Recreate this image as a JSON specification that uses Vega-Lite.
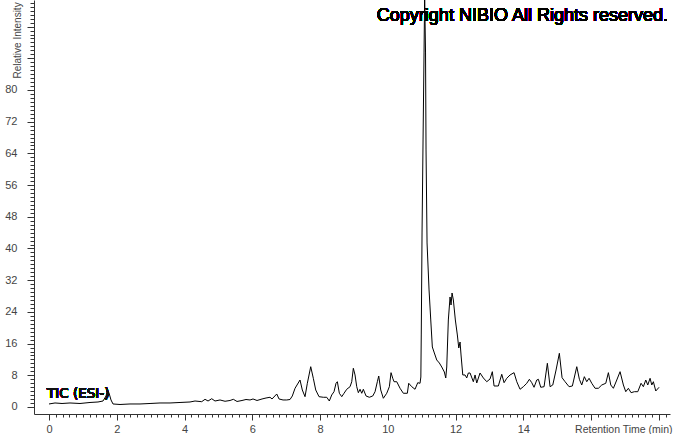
{
  "$schema": "https://vega.github.io/schema/vega-lite/v6.json",
  "width": 636,
  "height": 414,
  "autosize": {"type": "none"},
  "padding": {"left": 34, "top": 0, "right": 4, "bottom": 20},
  "background": "white",
  "config": {"view": {"stroke": null}, "font": "Liberation Sans", "axis": {"labelOverlap": false, "labelFlush": false, "grid": false}},
  "resolve": {"axis": {"x": "independent", "y": "independent"}},
  "data": {"values": [
    {"time": 0.0, "intensity": 0.76}, {"time": 0.177, "intensity": 1.01}, {"time": 0.384, "intensity": 0.88},
    {"time": 0.62, "intensity": 1.01}, {"time": 0.915, "intensity": 0.88}, {"time": 1.21, "intensity": 1.14},
    {"time": 1.446, "intensity": 1.26}, {"time": 1.594, "intensity": 1.51}, {"time": 1.683, "intensity": 2.78},
    {"time": 1.727, "intensity": 4.29}, {"time": 1.771, "intensity": 3.53}, {"time": 1.83, "intensity": 1.77},
    {"time": 1.889, "intensity": 0.76}, {"time": 2.096, "intensity": 0.63}, {"time": 2.391, "intensity": 0.76},
    {"time": 2.686, "intensity": 0.76}, {"time": 2.982, "intensity": 0.88}, {"time": 3.277, "intensity": 1.01},
    {"time": 3.572, "intensity": 1.01}, {"time": 3.867, "intensity": 1.14}, {"time": 4.162, "intensity": 1.26},
    {"time": 4.31, "intensity": 1.51}, {"time": 4.508, "intensity": 1.34}, {"time": 4.605, "intensity": 1.94},
    {"time": 4.694, "intensity": 1.51}, {"time": 4.803, "intensity": 2.09}, {"time": 4.9, "intensity": 1.51},
    {"time": 5.048, "intensity": 1.77}, {"time": 5.196, "intensity": 1.44}, {"time": 5.343, "intensity": 1.64},
    {"time": 5.441, "intensity": 1.94}, {"time": 5.55, "intensity": 1.39}, {"time": 5.697, "intensity": 1.64},
    {"time": 5.815, "intensity": 1.89}, {"time": 5.934, "intensity": 1.77}, {"time": 6.022, "intensity": 2.02},
    {"time": 6.14, "intensity": 1.64}, {"time": 6.288, "intensity": 2.02}, {"time": 6.406, "intensity": 2.27},
    {"time": 6.524, "intensity": 2.45}, {"time": 6.583, "intensity": 2.02}, {"time": 6.722, "intensity": 3.28},
    {"time": 6.79, "intensity": 2.02}, {"time": 6.908, "intensity": 1.77}, {"time": 7.017, "intensity": 1.77},
    {"time": 7.114, "intensity": 1.89}, {"time": 7.182, "intensity": 2.78}, {"time": 7.262, "intensity": 4.72},
    {"time": 7.409, "intensity": 6.81}, {"time": 7.477, "intensity": 4.29}, {"time": 7.557, "intensity": 2.6},
    {"time": 7.625, "intensity": 5.98}, {"time": 7.725, "intensity": 10.17}, {"time": 7.802, "intensity": 7.24},
    {"time": 7.873, "intensity": 4.29}, {"time": 7.97, "intensity": 2.6}, {"time": 8.097, "intensity": 2.45},
    {"time": 8.198, "intensity": 2.45}, {"time": 8.274, "intensity": 1.51}, {"time": 8.345, "intensity": 3.03},
    {"time": 8.413, "intensity": 3.86}, {"time": 8.472, "intensity": 5.98}, {"time": 8.511, "intensity": 6.38},
    {"time": 8.57, "intensity": 3.46}, {"time": 8.641, "intensity": 2.6}, {"time": 8.708, "intensity": 3.46},
    {"time": 8.788, "intensity": 4.47}, {"time": 8.886, "intensity": 5.12}, {"time": 8.936, "intensity": 6.38},
    {"time": 8.983, "intensity": 9.77}, {"time": 9.033, "intensity": 8.08}, {"time": 9.083, "intensity": 5.12},
    {"time": 9.131, "intensity": 3.61}, {"time": 9.181, "intensity": 4.47}, {"time": 9.231, "intensity": 3.46},
    {"time": 9.278, "intensity": 4.47}, {"time": 9.358, "intensity": 2.78}, {"time": 9.455, "intensity": 2.45},
    {"time": 9.556, "intensity": 2.78}, {"time": 9.624, "intensity": 3.86}, {"time": 9.692, "intensity": 6.38},
    {"time": 9.733, "intensity": 7.82}, {"time": 9.792, "intensity": 4.29}, {"time": 9.869, "intensity": 2.2},
    {"time": 9.969, "intensity": 3.46}, {"time": 10.046, "intensity": 5.12}, {"time": 10.096, "intensity": 8.66},
    {"time": 10.146, "intensity": 7.24}, {"time": 10.185, "intensity": 6.38}, {"time": 10.264, "intensity": 6.38},
    {"time": 10.362, "intensity": 4.72}, {"time": 10.459, "intensity": 3.46}, {"time": 10.577, "intensity": 3.46},
    {"time": 10.618, "intensity": 5.98}, {"time": 10.707, "intensity": 5.12}, {"time": 10.804, "intensity": 4.47},
    {"time": 10.884, "intensity": 6.13}, {"time": 10.952, "intensity": 5.98}, {"time": 10.976, "intensity": 7.57},
    {"time": 10.988, "intensity": 18.17}, {"time": 11.011, "intensity": 43.91}, {"time": 11.041, "intensity": 67.38},
    {"time": 11.07, "intensity": 89.34}, {"time": 11.088, "intensity": 104.0}, {"time": 11.114, "intensity": 89.34},
    {"time": 11.129, "intensity": 64.86}, {"time": 11.159, "intensity": 41.39}, {"time": 11.218, "intensity": 29.53},
    {"time": 11.268, "intensity": 21.96}, {"time": 11.315, "intensity": 15.14}, {"time": 11.374, "intensity": 13.63},
    {"time": 11.445, "intensity": 11.86}, {"time": 11.522, "intensity": 11.1}, {"time": 11.593, "intensity": 10.09},
    {"time": 11.669, "intensity": 8.83}, {"time": 11.711, "intensity": 7.32}, {"time": 11.74, "intensity": 10.09},
    {"time": 11.787, "intensity": 21.96}, {"time": 11.838, "intensity": 27.76}, {"time": 11.867, "intensity": 25.74},
    {"time": 11.897, "intensity": 28.77}, {"time": 11.935, "intensity": 27.0}, {"time": 11.994, "intensity": 21.96},
    {"time": 12.053, "intensity": 18.17}, {"time": 12.095, "intensity": 14.89}, {"time": 12.133, "intensity": 16.4},
    {"time": 12.162, "intensity": 13.12}, {"time": 12.213, "intensity": 8.08}, {"time": 12.28, "intensity": 8.08},
    {"time": 12.33, "intensity": 7.32}, {"time": 12.378, "intensity": 8.58}, {"time": 12.428, "intensity": 8.58},
    {"time": 12.525, "intensity": 6.38}, {"time": 12.576, "intensity": 8.08}, {"time": 12.626, "intensity": 6.06},
    {"time": 12.723, "intensity": 8.58}, {"time": 12.821, "intensity": 7.32}, {"time": 12.921, "intensity": 6.38},
    {"time": 13.018, "intensity": 7.07}, {"time": 13.086, "intensity": 8.91}, {"time": 13.137, "intensity": 5.3},
    {"time": 13.263, "intensity": 5.3}, {"time": 13.364, "intensity": 8.25}, {"time": 13.432, "intensity": 6.13},
    {"time": 13.511, "intensity": 7.24}, {"time": 13.609, "intensity": 8.08}, {"time": 13.727, "intensity": 8.66},
    {"time": 13.807, "intensity": 6.38}, {"time": 13.904, "intensity": 4.47}, {"time": 14.002, "intensity": 5.12},
    {"time": 14.102, "intensity": 5.98}, {"time": 14.179, "intensity": 6.99}, {"time": 14.25, "intensity": 6.13},
    {"time": 14.317, "intensity": 4.97}, {"time": 14.397, "intensity": 6.81}, {"time": 14.445, "intensity": 6.99},
    {"time": 14.515, "intensity": 4.97}, {"time": 14.613, "intensity": 5.12}, {"time": 14.71, "intensity": 11.03},
    {"time": 14.79, "intensity": 5.12}, {"time": 14.87, "intensity": 5.55}, {"time": 14.967, "intensity": 9.34},
    {"time": 15.064, "intensity": 13.55}, {"time": 15.144, "intensity": 7.39}, {"time": 15.233, "intensity": 6.38},
    {"time": 15.351, "intensity": 5.12}, {"time": 15.448, "intensity": 5.3}, {"time": 15.578, "intensity": 10.17},
    {"time": 15.655, "intensity": 6.99}, {"time": 15.725, "intensity": 5.55}, {"time": 15.802, "intensity": 7.65},
    {"time": 15.873, "intensity": 6.38}, {"time": 15.941, "intensity": 7.24}, {"time": 16.021, "intensity": 5.98},
    {"time": 16.118, "intensity": 4.72}, {"time": 16.216, "intensity": 4.72}, {"time": 16.316, "intensity": 5.55},
    {"time": 16.434, "intensity": 5.98}, {"time": 16.511, "intensity": 8.66}, {"time": 16.582, "intensity": 5.55},
    {"time": 16.659, "intensity": 4.72}, {"time": 16.759, "intensity": 6.81}, {"time": 16.856, "intensity": 8.91},
    {"time": 16.954, "intensity": 5.55}, {"time": 17.024, "intensity": 3.86}, {"time": 17.101, "intensity": 4.72},
    {"time": 17.181, "intensity": 3.61}, {"time": 17.278, "intensity": 3.86}, {"time": 17.379, "intensity": 3.86},
    {"time": 17.476, "intensity": 5.98}, {"time": 17.544, "intensity": 5.12}, {"time": 17.615, "intensity": 6.81},
    {"time": 17.674, "intensity": 5.55}, {"time": 17.742, "intensity": 7.24}, {"time": 17.792, "intensity": 5.55},
    {"time": 17.839, "intensity": 6.38}, {"time": 17.91, "intensity": 4.04}, {"time": 18.007, "intensity": 4.97}
  ]},
  "layer": [
    {
      "mark": {"type": "line", "color": "black", "strokeWidth": 1, "clip": true},
      "encoding": {
        "x": {
          "field": "time", "type": "quantitative",
          "scale": {"domain": [-0.443, 18.33], "nice": false, "zero": false},
          "axis": {
            "values": [0,0.2,0.4,0.6,0.8,1,1.2,1.4,1.6,1.8,2,2.2,2.4,2.6,2.8,3,3.2,3.4,3.6,3.8,4,4.2,4.4,4.6,4.8,5,5.2,5.4,5.6,5.8,6,6.2,6.4,6.6,6.8,7,7.2,7.4,7.6,7.8,8,8.2,8.4,8.6,8.8,9,9.2,9.4,9.6,9.8,10,10.2,10.4,10.6,10.8,11,11.2,11.4,11.6,11.8,12,12.2,12.4,12.6,12.8,13,13.2,13.4,13.6,13.8,14,14.2,14.4,14.6,14.8,15,15.2,15.4,15.6,15.8,16,16.2,16.4,16.6,16.8,17,17.2,17.4,17.6,17.8,18,18.2],
            "labelExpr": "(abs(datum.value/2 - round(datum.value/2)) < 0.01 && datum.value < 15) ? '' + round(datum.value) : ''",
            "labelOverlap": false,
            "labelFlush": false,
            "labelFontSize": 11,
            "labelColor": "#444444",
            "labelPadding": 3,
            "tickSize": {"condition": {"test": "abs(datum.value/2 - round(datum.value/2)) < 0.01", "value": 6}, "value": 3},
            "tickColor": "#333333",
            "domainColor": "#333333",
            "grid": false,
            "title": "Retention Time (min)",
            "titleFontSize": 10.5,
            "titleFontWeight": "normal",
            "titleColor": "#444444",
            "titleX": 638,
            "titleY": 15,
            "titleAlign": "right",
            "titleBaseline": "middle"
          }
        },
        "y": {
          "field": "intensity", "type": "quantitative",
          "scale": {"domain": [-1.77, 102.71], "nice": false, "zero": false},
          "axis": {
            "values": [0,1,2,3,4,5,6,7,8,9,10,11,12,13,14,15,16,17,18,19,20,21,22,23,24,25,26,27,28,29,30,31,32,33,34,35,36,37,38,39,40,41,42,43,44,45,46,47,48,49,50,51,52,53,54,55,56,57,58,59,60,61,62,63,64,65,66,67,68,69,70,71,72,73,74,75,76,77,78,79,80,81,82,83,84,85,86,87,88,89,90,91,92,93,94,95,96,97,98,99,100,101,102],
            "labelExpr": "(datum.value % 8 == 0 && datum.value <= 80) ? '' + datum.value : ''",
            "labelOverlap": false,
            "labelFlush": false,
            "labelFontSize": 11,
            "labelColor": "#444444",
            "labelPadding": 10,
            "tickSize": {"condition": {"test": "datum.value % 8 == 0", "value": 7}, "value": 4},
            "tickColor": "#333333",
            "domainColor": "#333333",
            "grid": false,
            "title": "Relative Intensity",
            "titleFontSize": 10,
            "titleFontWeight": "normal",
            "titleColor": "#444444",
            "titleAngle": 270,
            "titleX": -17,
            "titleY": 78,
            "titleAlign": "left",
            "titleBaseline": "middle"
          }
        }
      }
    },
    {
      "mark": {"type": "text", "text": "Copyright NIBIO All Rights reserved.", "align": "right", "baseline": "alphabetic", "fontSize": 18, "font": "Liberation Sans", "color": "black"},
      "encoding": {
        "x": {"datum": 18.27, "type": "quantitative", "axis": null},
        "y": {"datum": 97.4, "type": "quantitative", "axis": null}
      }
    },
    {
      "mark": {"type": "text", "text": "TIC (ESI-)", "align": "left", "baseline": "alphabetic", "fontSize": 13.5, "font": "DejaVu Sans", "color": "#111111"},
      "encoding": {
        "x": {"datum": -0.06, "type": "quantitative", "axis": null},
        "y": {"datum": 2.3, "type": "quantitative", "axis": null}
      }
    }
  ]
}
